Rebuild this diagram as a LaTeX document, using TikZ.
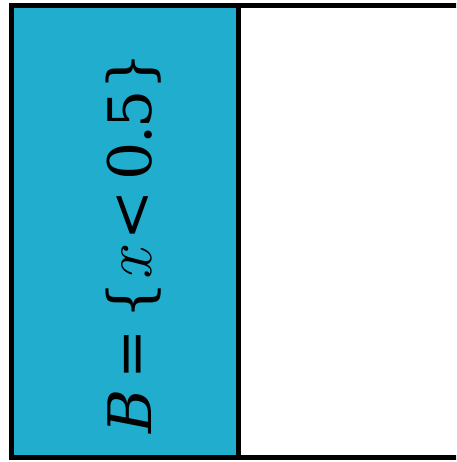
\documentclass[tikz,border=0pt]{standalone}
\usepackage{fontspec}
\setmainfont{DejaVu Serif}
\newfontfamily\lmrom{Latin Modern Roman}
\definecolor{fillc}{RGB}{33,173,206}
\newcommand{\gp}{\kern 10pt}
\begin{document}
\begin{tikzpicture}[x=1pt,y=1pt,
  frame/.style={line width=5pt,draw=black},
  lbl/.style={rotate=90,font=\fontsize{60}{72}\selectfont,inner sep=0pt}]
\useasboundingbox (0,0) rectangle (456,462);
\begin{scope}
\clip (0,0) rectangle (456,462);
\fill[fillc] (11,4) rectangle (238,456);
\draw[frame] (11,4) rectangle (465,456);
\draw[frame] (238,4) -- (238,456);
\end{scope}
\node[lbl] (b) at (134,219) {\textit{B}\gp=\gp\{{\lmrom\itshape\fontsize{68}{72}\selectfont x}\gp<\gp0\kern-3pt.\kern-3pt5\}};
\end{tikzpicture}
\end{document}
